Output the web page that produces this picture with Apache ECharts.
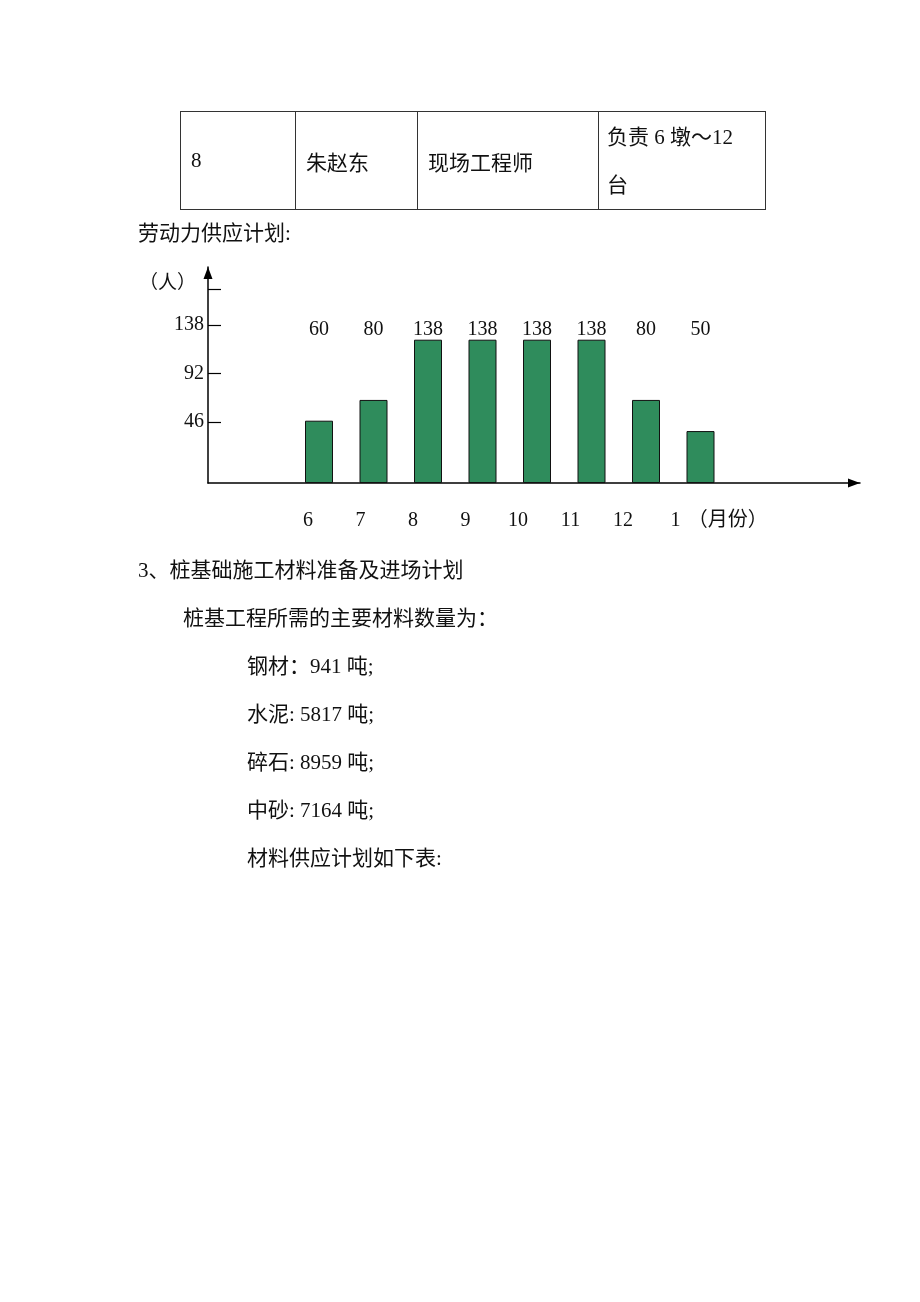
<!DOCTYPE html>
<html>
<head>
<meta charset="utf-8">
<script src="https://cdn.jsdelivr.net/npm/echarts@6/dist/echarts.min.js"></script>
<style>
html,body{margin:0;padding:0;background:#fff;}
#page{position:relative;width:920px;height:1302px;overflow:hidden;font-family:"Liberation Serif","Noto Sans CJK SC",serif;color:#111;}
#chart{position:absolute;left:0;top:0;width:920px;height:1302px;}
.t{position:absolute;font-size:21px;line-height:24px;white-space:nowrap;}
table{position:absolute;left:180px;top:111px;border-collapse:collapse;}
td{border:1px solid #333;height:98px;padding:0 0 0 10px;font-size:21px;vertical-align:middle;box-sizing:border-box;}
</style>
</head>
<body>
<div id="page">
<div id="chart"></div>
<table>
<tr>
<td style="width:115px;">8</td>
<td style="width:122px;">朱赵东</td>
<td style="width:181px;">现场工程师</td>
<td style="width:167px;line-height:48px;padding-left:8px;">负责 6 墩～12<br>台</td>
</tr>
</table>
<div class="t" style="left:138px;top:221px;">劳动力供应计划:</div>
<div class="t" style="left:138px;top:558px;">3、桩基础施工材料准备及进场计划</div>
<div class="t" style="left:183px;top:606px;">桩基工程所需的主要材料数量为：</div>
<div class="t" style="left:247px;top:654px;">钢材：941 吨;</div>
<div class="t" style="left:247px;top:702px;">水泥: 5817 吨;</div>
<div class="t" style="left:247px;top:750px;">碎石: 8959 吨;</div>
<div class="t" style="left:247px;top:798px;">中砂: 7164 吨;</div>
<div class="t" style="left:247px;top:846px;">材料供应计划如下表:</div>
</div>
<script>
var months = ['6', '7', '8', '9', '10', '11', '12', '1'];
var workers = [60, 80, 138, 138, 138, 138, 80, 50];
var yTicks = [46, 92, 138, 172];
var yTickLabels = [46, 92, 138];

var font = '"Liberation Serif","Noto Sans CJK SC",serif';
var chart = echarts.init(document.getElementById('chart'), null, {renderer: 'canvas'});
chart.setOption({
  animation: false,
  backgroundColor: 'transparent',
  grid: [
    {left: 208, right: 60, top: 267, bottom: 819},
    {left: 291.75, right: 192.25, top: 267, bottom: 819},
    {left: 281.75, right: 218.25, top: 267, bottom: 781}
  ],
  xAxis: [
    {gridIndex: 0, type: 'value', min: 0, max: 1,
      axisLine: {show: true, onZero: false, lineStyle: {color: '#000', width: 1.5}, symbol: ['none', 'triangle'], symbolSize: [9, 12], symbolOffset: [0, -6]},
      axisTick: {show: false}, axisLabel: {show: false}, splitLine: {show: false}},
    {gridIndex: 1, type: 'category', data: months,
      axisLine: {show: false}, axisTick: {show: false}, axisLabel: {show: false}},
    {gridIndex: 1, type: 'category', position: 'top', data: months,
      axisLine: {show: false}, axisTick: {show: false},
      axisLabel: {show: true, margin: -63, verticalAlign: 'middle', fontFamily: font, fontSize: 20, color: '#111',
        formatter: function (v, i) { return String(workers[i]); }}},
    {gridIndex: 2, type: 'category', data: months,
      axisLine: {show: false}, axisTick: {show: false},
      axisLabel: {show: true, margin: 0, verticalAlign: 'middle', fontFamily: font, fontSize: 20, color: '#111'},
      name: '（月份）', nameLocation: 'end', nameGap: -14,
      nameTextStyle: {fontFamily: font, fontSize: 20, color: '#111', align: 'left', verticalAlign: 'middle'}}
  ],
  yAxis: [
    {gridIndex: 0, type: 'value', min: -12, max: 193,
      axisLine: {show: true, onZero: false, lineStyle: {color: '#000', width: 1.5}, symbol: ['none', 'triangle'], symbolSize: [9, 12], symbolOffset: [0, -6]},
      axisTick: {show: true, inside: true, length: 13, lineStyle: {color: '#000', width: 1.2}, customValues: yTicks},
      axisLabel: {show: true, margin: 4, fontFamily: font, fontSize: 20, color: '#111', customValues: yTickLabels},
      splitLine: {show: false},
      name: '（人）', nameLocation: 'end', nameGap: -17,
      nameTextStyle: {fontFamily: font, fontSize: 19, color: '#111', align: 'right', verticalAlign: 'middle', padding: [0, 12, 0, 0]}},
    {gridIndex: 1, type: 'value', min: 0, max: 208, show: false},
    {gridIndex: 2, type: 'value', min: 0, max: 208, show: false}
  ],
  series: [{
    type: 'bar', xAxisIndex: 1, yAxisIndex: 1, data: workers, barWidth: 28,
    itemStyle: {color: '#2f8c5c', borderColor: '#111', borderWidth: 1}
  }]
});
</script>
</body>
</html>
